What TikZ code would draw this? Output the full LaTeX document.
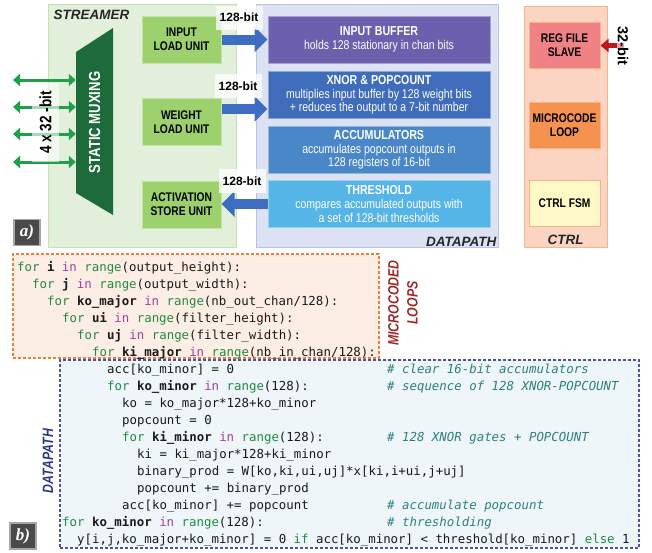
\documentclass[tikz,border=0pt]{standalone}
\usepackage{fontspec}
\setmainfont{Liberation Sans}
\setmonofont{DejaVu Sans Mono}
\newfontfamily\narrowsf[FakeStretch=0.82]{Liberation Sans}
\newfontfamily\tagfont{Liberation Serif}
\usetikzlibrary{arrows.meta, positioning, shapes.geometric}

\definecolor{streamfill}{HTML}{E2EFDA}
\definecolor{streamline}{HTML}{C5E0B4}
\definecolor{unitfill}{HTML}{9DD16E}
\definecolor{unitline}{HTML}{C3E2A8}
\definecolor{muxgreen}{HTML}{1D6B3B}
\definecolor{iogreen}{HTML}{21A04C}
\definecolor{dpfill}{HTML}{DCE2F3}
\definecolor{dpline}{HTML}{B7C4E6}
\definecolor{inbuffill}{HTML}{6B5FAE}
\definecolor{xnorfill}{HTML}{3F6DBC}
\definecolor{accfill}{HTML}{4A87C9}
\definecolor{thrfill}{HTML}{55B5E6}
\definecolor{busblue}{HTML}{3D6DC0}
\definecolor{ctrlfill}{HTML}{FBD4C2}
\definecolor{ctrlline}{HTML}{F5B48D}
\definecolor{regfill}{HTML}{F08185}
\definecolor{mcodefill}{HTML}{F59250}
\definecolor{fsmfill}{HTML}{FEF9C6}
\definecolor{regred}{HTML}{C0161E}
\definecolor{taggray}{HTML}{4A4A4A}
\definecolor{tagline}{HTML}{A6A6A6}
\definecolor{loopfill}{HTML}{FDEEE5}
\definecolor{loopline}{HTML}{EE7D3A}
\definecolor{dcodefill}{HTML}{EEF6FA}
\definecolor{dcodeline}{HTML}{4B52A3}
\definecolor{kwgreen}{HTML}{218B3F}
\definecolor{kwpurple}{HTML}{A13FA1}
\definecolor{cmteal}{HTML}{2F7F80}
\definecolor{codeblack}{HTML}{1A1A1A}
\definecolor{looptxt}{HTML}{9C2B2B}
\definecolor{dptxt}{HTML}{2A3A8A}

\newcommand{\kw}[1]{\textcolor{kwgreen}{#1}}
\newcommand{\kin}{\textcolor{kwpurple}{in}}
\newcommand{\lv}[1]{\textbf{#1}}
\newcommand{\cmt}[1]{\textcolor{cmteal}{\itshape\#~#1}}
\newcommand{\blocktitle}[1]{{\bfseries\fontsize{13}{14}\selectfont #1}}

\tikzset{
  groupbg/.style 2 args={fill=#1, draw=#2, line width=1pt, inner sep=0pt},
  grouplabel/.style={inner sep=1pt, font=\bfseries\itshape\fontsize{13.5}{14}\selectfont, text=black!85},
  unit/.style={fill=unitfill, draw=unitline, line width=1pt, minimum width=79pt, minimum height=47pt,
    inner sep=0pt, align=center, font=\narrowsf\bfseries\fontsize{12.5}{14}\selectfont},
  dpblock/.style={fill=#1, draw=#1!60!white, line width=1pt, minimum width=222pt, minimum height=47pt,
    inner sep=0pt, align=center, text=white, font=\narrowsf\fontsize{12.8}{13.7}\selectfont},
  ctrlblock/.style={fill=#1, draw=ctrlline, line width=1pt, minimum width=71pt, minimum height=46pt,
    inner sep=0pt, align=center, font=\narrowsf\bfseries\fontsize{12.5}{14}\selectfont},
  muxtext/.style={rotate=90, minimum width=141pt, minimum height=37pt, inner sep=0pt,
    text=white, font=\narrowsf\bfseries\fontsize{16}{16}\selectfont},
  gio/.style={line width=3pt, iogreen, {Triangle[width=12pt,length=7pt]}-{Triangle[width=12pt,length=7pt]}},
  bus/.style={line width=10pt, busblue, -{Triangle[width=25pt,length=13pt]}},
  regbus/.style={line width=5.5pt, regred, -{Triangle[width=13pt,length=8pt]}},
  buslabel/.style={fill=white, fill opacity=0.75, text opacity=1, inner sep=0pt, minimum width=47pt,
    minimum height=24pt, font=\bfseries\fontsize{12}{12}\selectfont},
  tagbox/.style={fill=taggray, draw=tagline, line width=1.5pt, minimum width=26pt, minimum height=26pt,
    inner sep=0pt, text=white, font=\tagfont\bfseries\itshape\fontsize{17}{17}\selectfont},
  codebox/.style 2 args={fill=#1, draw=#2, line width=1.2pt, dash pattern=on 3pt off 2pt, inner sep=0pt},
  code/.style={anchor=base west, inner sep=0pt, text=codeblack, font=\ttfamily\fontsize{12.4}{15}\selectfont},
  sidelabel/.style={rotate=90, align=center, inner sep=0pt, font=\narrowsf\bfseries\itshape\fontsize{15}{19}\selectfont}
}

\begin{document}
\begin{tikzpicture}[x=1pt,y=-1pt]
\useasboundingbox (0,0) rectangle (652,552);

% a) architecture
\node[groupbg={streamfill}{streamline}, minimum width=188pt, minimum height=243pt] (streamer) at (142,125.5) {};
\node[groupbg={dpfill}{dpline}, minimum width=242pt, minimum height=243pt] (datapath) at (377,125.5) {};
\node[groupbg={ctrlfill}{ctrlline}, minimum width=83pt, minimum height=241pt] (ctrl) at (565.5,126.5) {};
\node[grouplabel, below right=5pt and 5pt of streamer.north west] (streamtxt) {STREAMER};
\node[grouplabel, above left=0pt and 1pt of datapath.south east] (dpathtxt) {DATAPATH};
\node[grouplabel, above=2pt of ctrl.south] (ctrltxt) {CTRL};

\fill[muxgreen] (76,52) -- (113,28) -- (113,215) -- (76,193) -- cycle;
\node[muxtext] (mux) at (94.5,122.5) {STATIC MUXING};
\node[unit] (inload) at (181.5,39.5) {INPUT\\LOAD UNIT};
\node[unit] (wload) at (181.5,122) {WEIGHT\\LOAD UNIT};
\node[unit] (astore) at (181.5,204.5) {ACTIVATION\\STORE UNIT};

\node[dpblock=inbuffill] (inbuf) at (379,39.5) {\blocktitle{INPUT BUFFER}\\holds 128 stationary in chan bits};
\node[dpblock=xnorfill] (xnor) at (379,95) {\blocktitle{XNOR \& POPCOUNT}\\multiplies input buffer by 128 weight bits\\+ reduces the output to a 7-bit number};
\node[dpblock=accfill] (accum) at (379,150) {\blocktitle{ACCUMULATORS}\\accumulates popcount outputs in\\128 registers of 16-bit};
\node[dpblock=thrfill] (thresh) at (379,204) {\blocktitle{THRESHOLD}\\compares accumulated outputs with\\a set of 128-bit thresholds};

\node[ctrlblock=regfill] (regfile) at (564.5,45.5) {REG FILE\\SLAVE};
\node[ctrlblock=mcodefill] (mcode) at (564.5,125) {MICROCODE\\LOOP};
\node[ctrlblock=fsmfill] (fsm) at (564.5,203.5) {CTRL FSM};

% buses
\foreach \yy [count=\k] in {80,107,134,162} {
  \coordinate (io\k) at (13,\yy);
  \draw[gio] (io\k) -- (mux.north |- io\k);
}
\node[rotate=90, fill=white, fill opacity=0.6, text opacity=1, inner sep=0pt, minimum width=79pt,
  minimum height=27pt, font=\narrowsf\bfseries\fontsize{16.5}{16}\selectfont] (iowidth) at (45.5,122.5) {4 x 32 -bit};

\coordinate (wy) at (0,109);
\draw[bus] (inload) -- (inbuf);
\draw[bus] (wload.east |- wy) -- (xnor.west |- wy);
\draw[bus] (thresh.west) -- (astore.east |- thresh.west);
\coordinate (regin) at (624,45.5);
\draw[regbus] (regin) -- (regfile);

\node[buslabel] (bwin) at (239,17.5) {128-bit};
\node[buslabel] (bwweight) at (238,86) {128-bit};
\node[buslabel] (bwact) at (242,181) {128-bit};
\node[rotate=-90, fill=white, fill opacity=0.6, text opacity=1, inner sep=1pt,
  font=\bfseries\fontsize{14.5}{15}\selectfont] (bwreg) at (623,46) {32-bit};

\node[tagbox] (taga) at (27,232.5) {a)};

% b) loop nest
\node[codebox={loopfill}{loopline}, minimum width=366pt, minimum height=104pt] (loops) at (196,306) {};
\node[codebox={dcodefill}{dcodeline}, minimum width=579pt, minimum height=188pt] (dpcode) at (349.5,454) {};
\node[sidelabel, text=looptxt] (looptag) at (403,303) {MICROCODED\\LOOPS};
\node[sidelabel, text=dptxt] (dptag) at (48,461) {DATAPATH};

\node[code] (c1) at (17,271) {\kw{for} \lv{i} \kin{} \kw{range}(output\_height):};
\node[code] (c2) at (32,288) {\kw{for} \lv{j} \kin{} \kw{range}(output\_width):};
\node[code] (c3) at (47,305) {\kw{for} \lv{ko\_major} \kin{} \kw{range}(nb\_out\_chan/128):};
\node[code] (c4) at (62,322) {\kw{for} \lv{ui} \kin{} \kw{range}(filter\_height):};
\node[code] (c5) at (77,339) {\kw{for} \lv{uj} \kin{} \kw{range}(filter\_width):};
\node[code] (c6) at (92,356) {\kw{for} \lv{ki\_major} \kin{} \kw{range}(nb\_in\_chan/128):};
\node[code] (c7) at (107,373) {acc[ko\_minor] = 0};
\node[code] (c8) at (107,390) {\kw{for} \lv{ko\_minor} \kin{} \kw{range}(128):};
\node[code] (c9) at (122,407) {ko = ko\_major*128+ko\_minor};
\node[code] (c10) at (122,424) {popcount = 0};
\node[code] (c11) at (122,441) {\kw{for} \lv{ki\_minor} \kin{} \kw{range}(128):};
\node[code] (c12) at (137,458) {ki = ki\_major*128+ki\_minor};
\node[code] (c13) at (137,475) {binary\_prod = W[ko,ki,ui,uj]*x[ki,i+ui,j+uj]};
\node[code] (c14) at (137,492) {popcount += binary\_prod};
\node[code] (c15) at (122,509) {acc[ko\_minor] += popcount};
\node[code] (c16) at (62,526) {\kw{for} \lv{ko\_minor} \kin{} \kw{range}(128):};
\node[code] (c17) at (77,543) {y[i,j,ko\_major+ko\_minor] = 0 \kw{if} acc[ko\_minor] < threshold[ko\_minor] \kw{else} 1};

\node[code] (m7) at (387,373) {\cmt{clear 16-bit accumulators}};
\node[code] (m8) at (387,390) {\cmt{sequence of 128 XNOR-POPCOUNT}};
\node[code] (m11) at (387,441) {\cmt{128 XNOR gates + POPCOUNT}};
\node[code] (m15) at (387,509) {\cmt{accumulate popcount}};
\node[code] (m16) at (387,526) {\cmt{thresholding}};

\node[tagbox] (tagb) at (23,536) {b)};
\end{tikzpicture}
\end{document}
